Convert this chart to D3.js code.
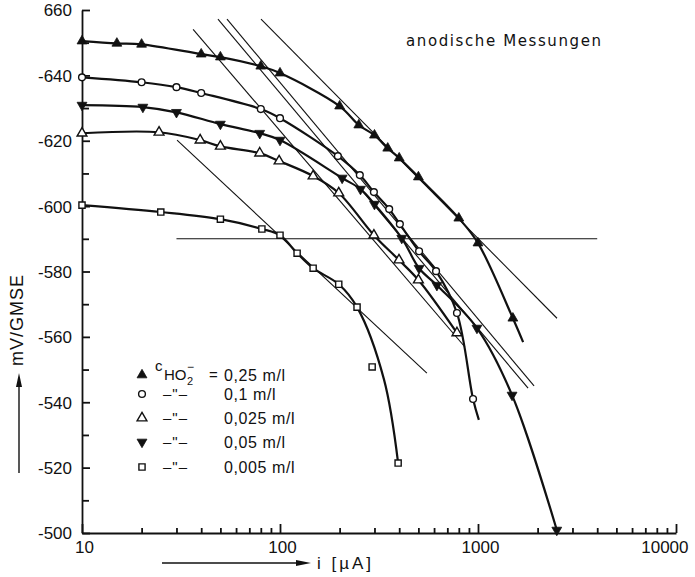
<!DOCTYPE html>
<html>
<head>
<meta charset="utf-8">
<script src="https://cdn.jsdelivr.net/npm/d3@7"></script>
<style>
  body { margin: 0; background: #fff; }
  svg text { font-family: "Liberation Sans", Arial, sans-serif; fill: #111; }
</style>
</head>
<body>
<div id="chart"></div>
<script>
// values: i in µA, U in mV/GMSE
// 0,25 m/l (filled triangle up)
const I_025 = [10, 15, 20, 40, 50, 80, 100, 200, 250, 300, 350, 400, 500, 800, 1000, 1500];
const U_025 = [-650.5, -649.8, -649.5, -646.5, -645.6, -642.8, -640.7, -630.6, -624.8, -621.7, -617.7, -614.7, -608.9, -596.3, -588.7, -565.7];
const TAIL_I_025 = [1690], TAIL_U_025 = [-558.4];
// 0,1 m/l (open circle)
const I_01 = [10, 20, 30, 40, 80, 100, 196, 253, 298, 356, 403, 504, 614, 783, 944];
const U_01 = [-639.4, -637.9, -636.4, -634.6, -629.7, -626.9, -615.3, -609.5, -604.3, -599.1, -594.5, -586.2, -580.1, -567.3, -541.0];
const TAIL_I_01 = [1010], TAIL_U_01 = [-534.6];
// 0,025 m/l (open triangle)
const I_0025 = [10, 24.5, 39.5, 50, 79, 99, 147, 198, 298, 399, 500, 783];
const U_0025 = [-622.3, -622.6, -620.2, -618.3, -616.2, -613.8, -609.2, -604.0, -591.1, -583.5, -577.4, -561.2];
// 0,05 m/l (filled triangle down)
const I_005 = [10, 20.3, 30, 50, 79, 100, 206, 255, 300, 412, 504, 620, 988, 1486, 2500];
const U_005 = [-630.9, -630.3, -628.7, -625.1, -622.3, -620.2, -608.6, -605.2, -600.6, -590.2, -581.0, -575.8, -562.7, -542.2, -500.9];
// 0,005 m/l (open square)
const I_0005 = [10, 25, 50, 81, 100, 122, 147, 198, 245, 395];
const U_0005 = [-600.3, -598.2, -596.0, -593.0, -591.1, -585.6, -581.0, -576.1, -569.1, -521.4];
const BEND_I_0005 = [335], BEND_U_0005 = [-547];
const STRAY_I_0005 = [292], STRAY_U_0005 = [-550.8];

// thin straight lines (Tafel lines + horizontal)
const LINE_I0 = [30, 36.4, 48.6, 54, 80.2, 30.2];
const LINE_U0 = [-590, -654.1, -657.2, -657.2, -657.2, -620.2];
const LINE_I1 = [4000, 859, 1790, 1919, 2506, 552];
const LINE_U1 = [-590, -556.9, -544.3, -545.0, -565.7, -548.9];

const X_TICKS = [10, 100, 1000, 10000];
const X_LABELS = ['10', '100', '1000', '10000'];
const Y_TICKS = [-660, -640, -620, -600, -580, -560, -540, -520, -500];
const Y_LABELS = ['660', '-640', '-620', '-600', '-580', '-560', '-540', '-520', '-500'];

const LEGEND_VALUES = ['0,25 m/l', '0,1  m/l', '0,025 m/l', '0,05 m/l', '0,005 m/l'];

const W = 695, H = 577;
const svg = d3.select('#chart').append('svg').attr('width', W).attr('height', H);

const x = d3.scaleLog().domain([10, 10000]).range([82, 676]);
const y = d3.scaleLinear().domain([-500, -660]).range([533, 10]);

// axes
const yAxis = d3.axisLeft(y).tickValues(Y_TICKS)
  .tickFormat((d, i) => Y_LABELS[i]).tickSizeInner(-8).tickSizeOuter(0).tickPadding(10);
const gy = svg.append('g').attr('transform', 'translate(82,0)').call(yAxis);
gy.selectAll('text').style('font-size', '17px');
const yMinor = d3.range(-650, -500, 20);
svg.append('g').attr('transform', 'translate(82,0)')
  .call(d3.axisLeft(y).tickValues(yMinor).tickFormat('').tickSizeInner(-7).tickSizeOuter(0))
  .select('.domain').remove();

const xAxis = d3.axisBottom(x).tickValues(X_TICKS)
  .tickFormat((d, i) => X_LABELS[i]).tickSizeInner(-9).tickSizeOuter(0).tickPadding(8);
const gx = svg.append('g').attr('transform', 'translate(0,533)').call(xAxis);
gx.selectAll('text').style('font-size', '17px').attr('dx', 2);
gx.selectAll('.tick').filter(d => d === 10000).select('text').attr('text-anchor', 'end').attr('dx', 12);
const xMinor = [];
[10, 100, 1000].forEach(dec => { for (let k = 2; k <= 9; k++) xMinor.push(dec * k); });
svg.append('g').attr('transform', 'translate(0,533)')
  .call(d3.axisBottom(x).tickValues(xMinor).tickFormat('').tickSizeInner(-5).tickSizeOuter(0))
  .select('.domain').remove();
svg.selectAll('.domain, .tick line').attr('stroke', '#111').attr('stroke-width', 1.8);
gy.selectAll('.tick text').attr('dy', '0.35em');

// thin lines
svg.append('g').selectAll('line').data(LINE_I0).enter().append('line')
  .attr('x1', (d, i) => x(LINE_I0[i])).attr('y1', (d, i) => y(LINE_U0[i]))
  .attr('x2', (d, i) => x(LINE_I1[i])).attr('y2', (d, i) => y(LINE_U1[i]))
  .attr('stroke', '#111').attr('stroke-width', 1.1);

// series
const series = [
  { i: I_025, u: U_025, ci: I_025.concat(TAIL_I_025), cu: U_025.concat(TAIL_U_025), sym: 'up' },
  { i: I_01, u: U_01, ci: I_01.concat(TAIL_I_01), cu: U_01.concat(TAIL_U_01), sym: 'circle' },
  { i: I_0025, u: U_0025, ci: I_0025, cu: U_0025, sym: 'open' },
  { i: I_005, u: U_005, ci: I_005, cu: U_005, sym: 'down' },
  { i: I_0005.concat(STRAY_I_0005), u: U_0005.concat(STRAY_U_0005),
    ci: I_0005.slice(0, 9).concat(BEND_I_0005, I_0005.slice(9)),
    cu: U_0005.slice(0, 9).concat(BEND_U_0005, U_0005.slice(9)), sym: 'square' }
];

const line = d3.line().curve(d3.curveCatmullRom.alpha(0.5));

function marker(g, kind, px, py) {
  const type = (kind === 'circle') ? d3.symbolCircle : (kind === 'square' ? d3.symbolSquare : d3.symbolTriangle);
  const size = kind === 'circle' ? 36 : (kind === 'square' ? 38 : 42);
  const filled = kind === 'up' || kind === 'down';
  g.append('path')
    .attr('d', d3.symbol().type(type).size(size)())
    .attr('transform', `translate(${px},${py})` + (kind === 'down' ? ' rotate(180)' : ''))
    .attr('fill', filled ? '#111' : '#fff')
    .attr('stroke', '#111')
    .attr('stroke-width', filled ? 0.8 : 1.4);
}

series.forEach(s => {
  const pts = s.ci.map((v, k) => [x(v), y(s.cu[k])]);
  svg.append('path').attr('d', line(pts))
    .attr('fill', 'none').attr('stroke', '#111').attr('stroke-width', 2.2);
});
series.forEach(s => {
  const g = svg.append('g');
  s.i.forEach((v, k) => marker(g, s.sym, x(v), y(s.u[k])));
});

// title
svg.append('text').attr('x', 406).attr('y', 46)
  .style('font-family', '"DejaVu Sans", sans-serif').style('font-size', '15px')
  .style('letter-spacing', '1.6px').text('anodische Messungen');

// legend
const rowsY = [375, 394, 418, 442, 467];
const lg = svg.append('g');
series.forEach((s, k) => {
  marker(lg, s.sym, 142, rowsY[k]);
  if (k > 0) {
    lg.append('text').attr('x', 163).attr('y', rowsY[k] + 5).style('font-size', '15px')
      .style('letter-spacing', '1px').text('–"–');
  }
  lg.append('text').attr('x', 224).attr('y', rowsY[k] + 6).style('font-size', '16px')
    .style('letter-spacing', '0.6px').text(LEGEND_VALUES[k]);
});
lg.append('text').attr('x', 155).attr('y', 371).style('font-size', '15px').text('c');
lg.append('text').attr('x', 164).attr('y', 380).style('font-size', '15px').text('HO');
lg.append('text').attr('x', 187).attr('y', 385).style('font-size', '11px').text('2');
lg.append('text').attr('x', 187).attr('y', 371).style('font-size', '12px').text('−');
lg.append('text').attr('x', 209).attr('y', 380).style('font-size', '15px').text('=');

// axis titles with arrows
svg.append('line').attr('x1', 162).attr('y1', 563).attr('x2', 300).attr('y2', 563)
  .attr('stroke', '#111').attr('stroke-width', 1.4);
svg.append('path').attr('d', 'M296,560 L311,563 L296,566 Z').attr('fill', '#111');
svg.append('text').attr('x', 317).attr('y', 569).style('font-size', '17px')
  .style('letter-spacing', '3px').text('i [µA]');

svg.append('line').attr('x1', 19).attr('y1', 473).attr('x2', 19).attr('y2', 384)
  .attr('stroke', '#111').attr('stroke-width', 1.4);
svg.append('path').attr('d', 'M16,387 L19,373 L22,387 Z').attr('fill', '#111');
svg.append('text').attr('transform', 'translate(23,320) rotate(-90)')
  .attr('text-anchor', 'middle').style('font-size', '18px')
  .style('letter-spacing', '1px').text('mV/GMSE');
</script>
</body>
</html>
